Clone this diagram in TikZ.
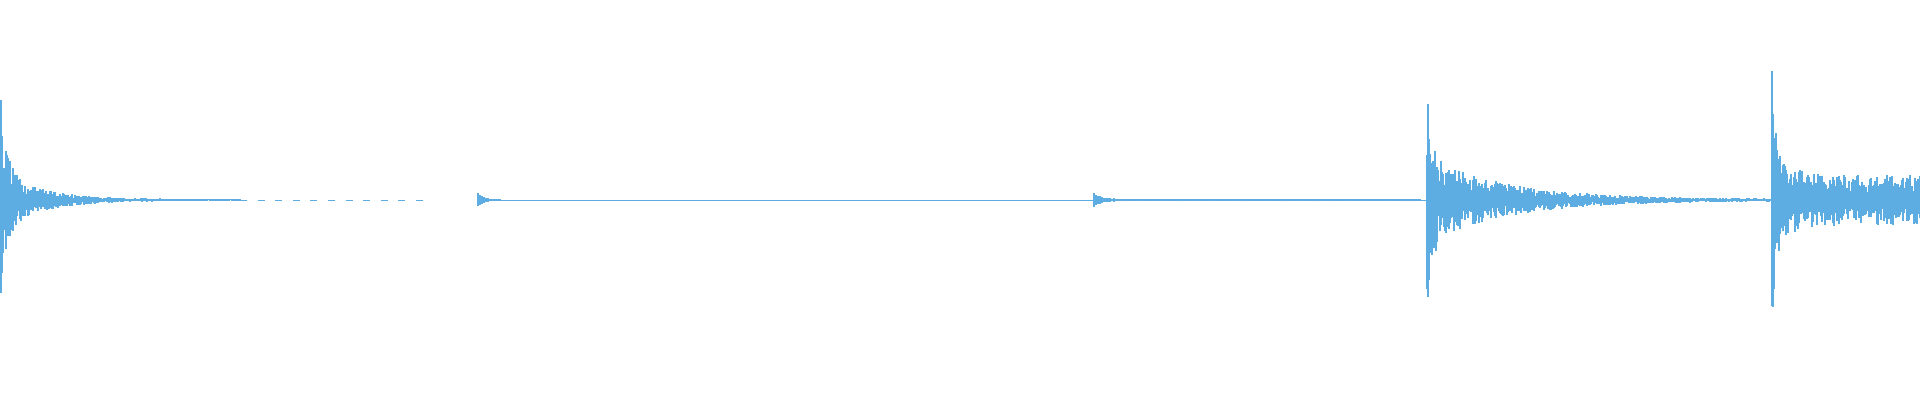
\documentclass[tikz,border=0pt]{standalone}
\usetikzlibrary{positioning}
\definecolor{wavecol}{HTML}{5DADE2}
\begin{document}
\begin{tikzpicture}[x=0.01cm,y=0.01cm]
    \tikzstyle{every path}=[wavecol]
    \tikzstyle{bar}=[line width=0.012cm]
    \pgfmathsetseed{7}
    \useasboundingbox (0,0) rectangle (1920,400);
    % quiet baseline
    \draw[line width=0.008cm] (478,200) -- (1427,200);
    \draw[line width=0.008cm,dash pattern=on 2pt off 3pt] (240,200) -- (430,200);
    % first hit
    \foreach \x in {0,1,...,240} {
      \pgfmathsetmacro\amp{85*exp(-\x/6)+30*exp(-\x/40)+1}
      \draw[bar] (\x,{200-\amp*(0.3+0.7*rnd)}) -- (\x,{200+\amp*(0.3+0.7*rnd)});
    }
    % small blips
    \foreach \x in {478,480,...,500} {
      \pgfmathsetmacro\amp{6*exp(-(\x-478)/6)+0.5}
      \draw[bar] (\x,{200-\amp}) -- (\x,{200+\amp});
    }
    \foreach \x in {1094,1096,...,1420} {
      \pgfmathsetmacro\amp{6*exp(-(\x-1094)/6)+1.5*(0.5+0.5*rnd)}
      \draw[bar] (\x,{200-\amp}) -- (\x,{200+\amp});
    }
    % second hit
    \foreach \x in {1427,1428,...,1770} {
      \pgfmathsetmacro\amp{80*exp(-(\x-1427)/5)+42*exp(-(\x-1427)/80)+1}
      \draw[bar] (\x,{200-\amp*(0.3+0.7*rnd)}) -- (\x,{200+\amp*(0.3+0.7*rnd)});
    }
    % third hit
    \foreach \x in {1772,1773,...,1920} {
      \pgfmathsetmacro\amp{100*exp(-(\x-1772)/2.5)+35*exp(-(\x-1772)/15)+25}
      \draw[bar] (\x,{200-\amp*(0.3+0.7*rnd)}) -- (\x,{200+\amp*(0.3+0.7*rnd)});
    }
  \end{tikzpicture}
\end{document}
